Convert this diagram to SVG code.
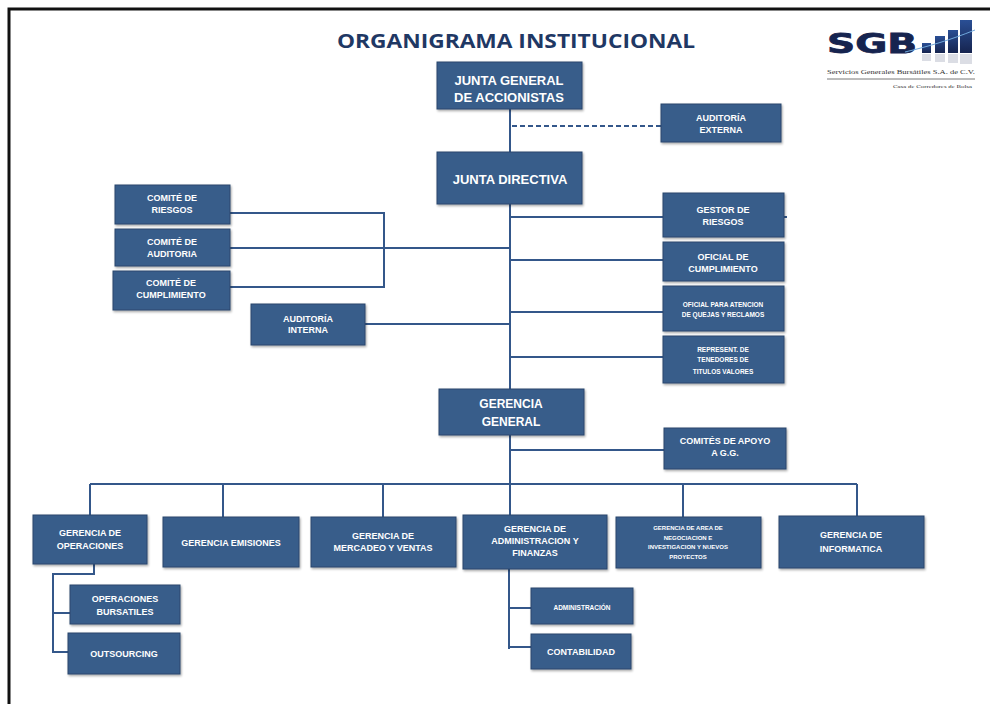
<svg xmlns="http://www.w3.org/2000/svg" width="990" height="704" viewBox="0 0 990 704">
<defs>
<filter id="sh" x="-10%" y="-10%" width="130%" height="140%">
<feDropShadow dx="1" dy="1.5" stdDeviation="1" flood-color="#000" flood-opacity="0.35"/>
</filter>
<linearGradient id="bar" x1="0" y1="0" x2="0" y2="1">
<stop offset="0" stop-color="#2a4f95"/>
<stop offset="1" stop-color="#16244f"/>
</linearGradient>
</defs>
<style>
.box{fill:#385d8a;stroke:#28466c;stroke-width:1;filter:url(#sh)}
.ln{fill:none;stroke:#34578a;stroke-width:2}
.t{font-family:"Liberation Sans",Arial,sans-serif;font-weight:bold;fill:#fff;text-anchor:middle;dominant-baseline:central}
.s9{font-size:9px}
.s7{font-size:6.5px}
.s13{font-size:13px}
</style>
<rect width="990" height="704" fill="#fff"/>
<path d="M9,704 V9 H990" fill="none" stroke="#111" stroke-width="3"/>
<text x="516" y="48" font-family="Open Sans,Liberation Sans,sans-serif" font-weight="bold" font-size="20" fill="#1f3864" text-anchor="middle" textLength="358" lengthAdjust="spacingAndGlyphs">ORGANIGRAMA INSTITUCIONAL</text>
<g id="logo">
<text x="827" y="53" font-family="DejaVu Sans,Liberation Sans,sans-serif" font-weight="bold" font-size="27" fill="#16244f" stroke="#16244f" stroke-width="0.8" textLength="90" lengthAdjust="spacingAndGlyphs">SGB</text>
<rect x="922" y="43" width="9" height="10" fill="url(#bar)"/>
<rect x="935" y="36" width="10" height="17" fill="url(#bar)"/>
<rect x="948" y="30" width="10" height="23" fill="url(#bar)"/>
<rect x="960" y="20" width="12" height="33" fill="url(#bar)"/>
<g opacity="0.15" fill="#16244f"><rect x="922" y="54" width="9" height="7"/><rect x="935" y="54" width="10" height="8"/><rect x="948" y="54" width="10" height="9"/><rect x="960" y="54" width="12" height="10"/></g>
<path d="M905,52 C930,46 950,40 975,30" fill="none" stroke="#6fa8dc" stroke-width="1"/>
<text x="827" y="74" font-family="Liberation Serif,serif" font-size="6.5" fill="#333" textLength="148" lengthAdjust="spacingAndGlyphs">Servicios Generales Bursátiles S.A. de C.V.</text>
<path d="M827,79 H975" stroke="#555" stroke-width="0.8"/>
<text x="893" y="88" font-family="Liberation Serif,serif" font-size="5" fill="#333" textLength="79" lengthAdjust="spacingAndGlyphs">Casa de Corredores de Bolsa</text>
</g>
<g id="connectors">
<path class="ln" d="M510,109 V515"/>
<path class="ln" d="M512,126 H661" stroke-dasharray="5,3"/>
<path class="ln" d="M230,213 H384 V287 H230"/>
<path class="ln" d="M230,248 H510"/>
<path class="ln" d="M365,324 H510"/>
<path class="ln" d="M510,217 H787"/>
<path class="ln" d="M510,260 H663"/>
<path class="ln" d="M510,312 H663"/>
<path class="ln" d="M510,357 H663"/>
<path class="ln" d="M510,450 H664"/>
<path class="ln" d="M90,484 H857"/>
<path class="ln" d="M90,484 V515 M223,484 V517 M383,484 V517 M683,484 V517 M857,484 V516"/>
<path class="ln" d="M94,564 V574 H53 V653"/>
<path class="ln" d="M53,613 H70 M53,652 H68"/>
<path class="ln" d="M509,569 V649"/>
<path class="ln" d="M509,608 H531 M509,647 H531"/>
</g>
<g id="n-junta-general"><rect class="box" x="437" y="62" width="145" height="47"/><text class="t s13" x="509" y="80">JUNTA GENERAL</text><text class="t s13" x="509" y="97">DE ACCIONISTAS</text></g>
<g id="n-auditoria-externa"><rect class="box" x="661" y="104" width="120" height="38"/><text class="t s9" x="721" y="118">AUDITORÍA</text><text class="t s9" x="721" y="130">EXTERNA</text></g>
<g id="n-junta-directiva"><rect class="box" x="437" y="152" width="145" height="52"/><text class="t s13" x="510" y="179">JUNTA DIRECTIVA</text></g>
<g id="n-comite-riesgos"><rect class="box" x="115" y="185" width="115" height="39"/><text class="t s9" x="172" y="198">COMITÉ DE</text><text class="t s9" x="172" y="210">RIESGOS</text></g>
<g id="n-comite-auditoria"><rect class="box" x="115" y="229" width="115" height="37"/><text class="t s9" x="172" y="242">COMITÉ DE</text><text class="t s9" x="172" y="254">AUDITORIA</text></g>
<g id="n-comite-cumplimiento"><rect class="box" x="113" y="271" width="117" height="39"/><text class="t s9" x="171" y="283">COMITÉ DE</text><text class="t s9" x="171" y="295">CUMPLIMIENTO</text></g>
<g id="n-auditoria-interna"><rect class="box" x="251" y="304" width="114" height="41"/><text class="t s9" x="308" y="319">AUDITORÍA</text><text class="t s9" x="308" y="330">INTERNA</text></g>
<g id="n-gestor-riesgos"><rect class="box" x="663" y="193" width="121" height="44"/><text class="t s9" x="723" y="210">GESTOR DE</text><text class="t s9" x="723" y="222">RIESGOS</text></g>
<g id="n-oficial-cumplimiento"><rect class="box" x="663" y="242" width="121" height="39"/><text class="t s9" x="723" y="257">OFICIAL DE</text><text class="t s9" x="723" y="269">CUMPLIMIENTO</text></g>
<g id="n-oficial-quejas"><rect class="box" x="663" y="286" width="121" height="45"/><text class="t s7" x="723" y="304">OFICIAL  PARA ATENCION</text><text class="t s7" x="723" y="314">DE QUEJAS  Y RECLAMOS</text></g>
<g id="n-represent"><rect class="box" x="663" y="336" width="121" height="47"/><text class="t s7" x="723" y="349">REPRESENT.   DE</text><text class="t s7" x="723" y="359">TENEDORES   DE</text><text class="t s7" x="723" y="371">TITULOS   VALORES</text></g>
<g id="n-gerencia-general"><rect class="box" x="439" y="389" width="145" height="46"/><text class="t" font-size="12" x="511" y="404">GERENCIA</text><text class="t" font-size="12" x="511" y="422">GENERAL</text></g>
<g id="n-comites-apoyo"><rect class="box" x="664" y="428" width="122" height="41"/><text class="t s9" x="725" y="441">COMITÉS DE APOYO</text><text class="t s9" x="725" y="453">A G.G.</text></g>
<g id="n-operaciones"><rect class="box" x="33" y="515" width="114" height="49"/><text class="t s9" x="90" y="533">GERENCIA  DE</text><text class="t s9" x="90" y="546">OPERACIONES</text></g>
<g id="n-emisiones"><rect class="box" x="163" y="517" width="136" height="50"/><text class="t s9" x="231" y="543">GERENCIA EMISIONES</text></g>
<g id="n-mercadeo"><rect class="box" x="311" y="517" width="145" height="50"/><text class="t s9" x="383" y="536">GERENCIA DE</text><text class="t s9" x="383" y="548">MERCADEO Y VENTAS</text></g>
<g id="n-administracion-finanzas"><rect class="box" x="463" y="515" width="144" height="54"/><text class="t s9" x="535" y="529">GERENCIA DE</text><text class="t s9" x="535" y="541">ADMINISTRACION Y</text><text class="t s9" x="535" y="553">FINANZAS</text></g>
<g id="n-negociacion"><rect class="box" x="616" y="517" width="145" height="51"/><text class="t" font-size="6" x="688" y="528">GERENCIA DE AREA DE</text><text class="t" font-size="6" x="688" y="538">NEGOCIACION E</text><text class="t" font-size="6" x="688" y="547">INVESTIGACION   Y NUEVOS</text><text class="t" font-size="6" x="688" y="557">PROYECTOS</text></g>
<g id="n-informatica"><rect class="box" x="779" y="516" width="145" height="52"/><text class="t s9" x="851" y="535">GERENCIA  DE</text><text class="t s9" x="851" y="549">INFORMATICA</text></g>
<g id="n-bursatiles"><rect class="box" x="70" y="585" width="110" height="39"/><text class="t s9" x="125" y="599">OPERACIONES</text><text class="t s9" x="125" y="612">BURSATILES</text></g>
<g id="n-outsourcing"><rect class="box" x="68" y="633" width="112" height="41"/><text class="t s9" x="124" y="654">OUTSOURCING</text></g>
<g id="n-administracion"><rect class="box" x="531" y="588" width="102" height="36"/><text class="t s7" x="582" y="607">ADMINISTRACIÓN</text></g>
<g id="n-contabilidad"><rect class="box" x="531" y="634" width="100" height="35"/><text class="t s9" x="581" y="652">CONTABILIDAD</text></g>
</svg>
